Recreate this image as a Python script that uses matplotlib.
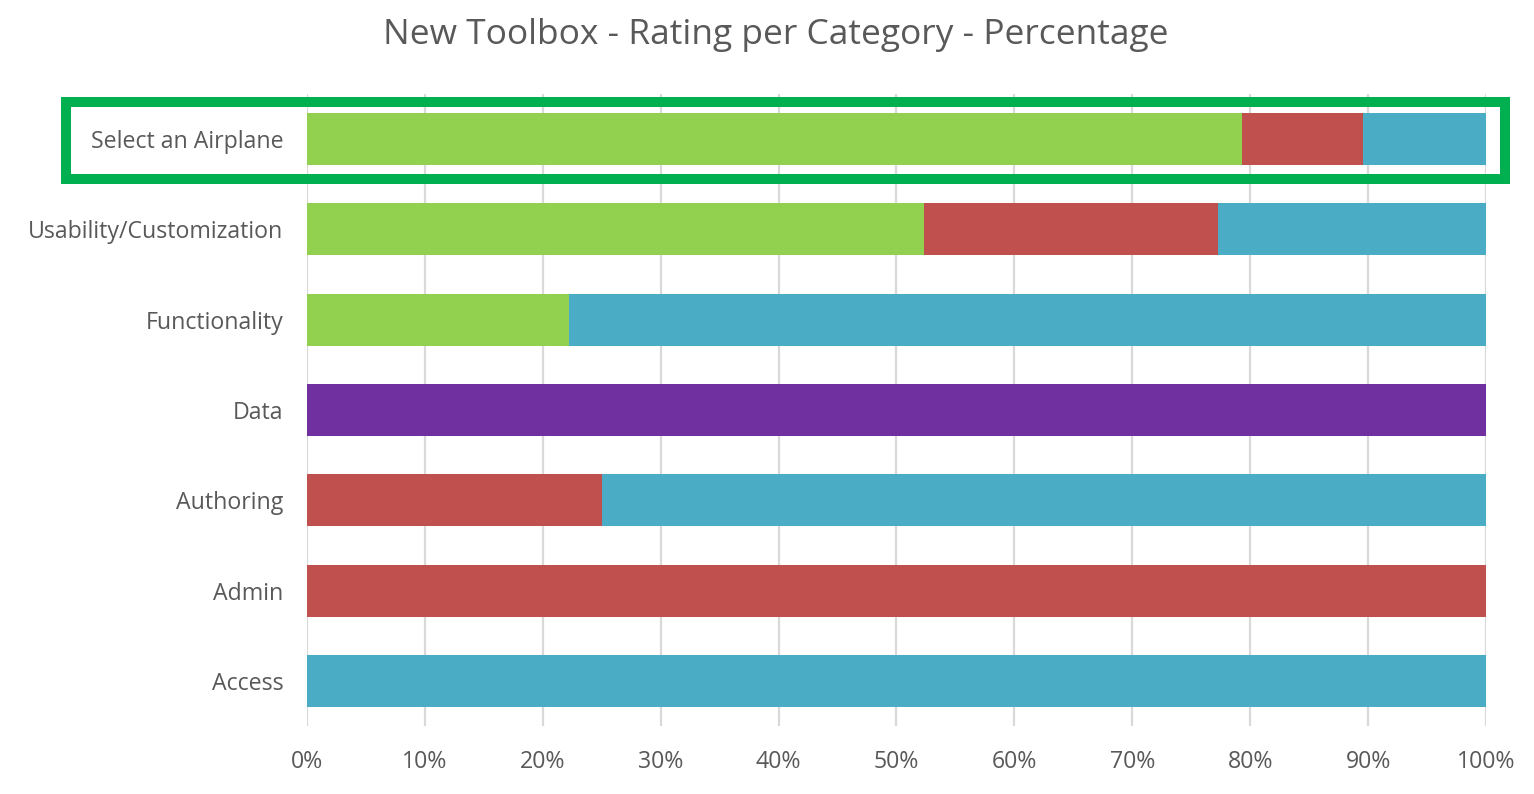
import matplotlib.pyplot as plt
from matplotlib.patches import Rectangle
from matplotlib.ticker import PercentFormatter

plt.rcParams['font.family'] = ['Open Sans', 'DejaVu Sans']

# categories listed top to bottom
categories = ['Select an Airplane', 'Usability/Customization', 'Functionality',
              'Data', 'Authoring', 'Admin', 'Access']
green = [79.3, 52.3, 22.2, 0, 0, 0, 0]
purple = [0, 0, 0, 100, 0, 0, 0]
red = [10.3, 25.0, 0, 0, 25.0, 100, 0]
blue = [10.4, 22.7, 77.8, 0, 75.0, 0, 100]

series = [(green, '#92D050'), (purple, '#7030A0'), (red, '#C0504D'), (blue, '#4BACC6')]

fig = plt.figure(figsize=(15.34, 7.94), dpi=100)
ax = fig.add_axes([0.2001, 0.0856, 0.7686, 0.796])

ypos = list(range(len(categories)))[::-1]
left = [0] * len(categories)
for vals, col in series:
    ax.barh(ypos, vals, left=left, height=0.575, color=col, zorder=3)
    left = [a + b for a, b in zip(left, vals)]

ax.set_xlim(0, 100)
ax.set_ylim(-0.5, len(categories) - 0.5)
ax.set_xticks(range(0, 101, 10))
ax.xaxis.set_major_formatter(PercentFormatter(decimals=0))
ax.set_yticks(ypos)
ax.set_yticklabels(categories)
ax.grid(axis='x', color='#D9D9D9', linewidth=1.6, zorder=0)
for s in ax.spines.values():
    s.set_visible(False)
ax.tick_params(length=0, labelsize=16.7, colors='#595959')
ax.tick_params(axis='x', pad=17)
ax.tick_params(axis='y', pad=17)

fig.text(0.506, 0.956, 'New Toolbox - Rating per Category - Percentage',
         ha='center', va='center', fontsize=25.5, color='#595959')

# highlight box around the first row
fig.patches.append(Rectangle((0.043, 0.7746), 0.9381, 0.0969, transform=fig.transFigure,
                             fill=False, edgecolor='#00B050', linewidth=7.2))

fig.savefig('out.png', dpi=100)
